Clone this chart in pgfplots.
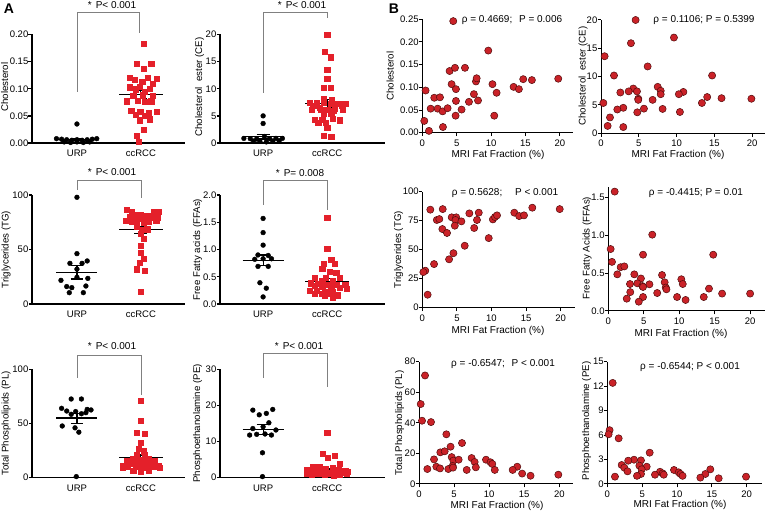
\documentclass[border=0pt]{standalone}
\usepackage{fontspec}
\setmainfont{Liberation Sans}
\usepackage{pgfplots}
\pgfplotsset{compat=1.18}
\definecolor{ared}{RGB}{228,32,42}
\definecolor{bred}{RGB}{202,34,40}
\definecolor{bdark}{RGB}{80,12,12}

\pgfplotsset{
  base/.style={scale only axis, anchor=south west, clip=false, enlargelimits=false,
    axis lines=left, axis line style={-,black},
    tick align=outside, major tick length=3.5pt, tick style={black},
    tick label style={font=\fontsize{9.5}{11}\selectfont},
    yticklabel style={inner xsep=0.5pt, xshift=0.5pt},
    /pgf/number format/assume math mode=true},
  apanel/.style={base, axis line style={line width=1.4pt}, ytick style={line width=1.4pt},
    xtick={1,2}, xticklabels={URP,ccRCC}, xtick style={draw=none}, ymin=0},
  aleft/.style={apanel, xmin=0.297, xmax=2.69, width=153pt},
  aright/.style={apanel, xmin=0.328, xmax=2.9, width=165pt},
  bpanel/.style={base, axis line style={line width=1pt}, tick style={line width=1pt},
    xmin=0, ymin=0, xtick={0,5,10,15,20}},
  two/.style={yticklabel style={/pgf/number format/.cd,fixed,fixed zerofill,precision=2}},
  one/.style={yticklabel style={/pgf/number format/.cd,fixed,fixed zerofill,precision=1}},
  urp/.style={only marks, mark=*, mark size=2.4pt, mark options={fill=black, draw=black}},
  cc/.style={only marks, mark=square*, mark size=2.6pt, mark options={fill=ared, draw=ared}},
  bdot/.style={only marks, mark=*, mark size=3.6pt, mark options={fill=bred, draw=bdark, line width=0.5pt}},
  msl/.style={black, line width=1.2pt},
}
% mean and SEM: x-left, x-right, cap-left, cap-right, x-centre, mean, low, high
\newcommand\msem[8]{%
  \addplot[msl] coordinates {(#1,#6) (#2,#6)};
  \addplot[msl] coordinates {(#5,#7) (#5,#8)};
  \addplot[msl] coordinates {(#3,#7) (#4,#7)};
  \addplot[msl] coordinates {(#3,#8) (#4,#8)};
}

\begin{document}
\begin{tikzpicture}[x=1pt,y=1pt,font=\fontsize{10}{12}\selectfont,
  ylab/.style={rotate=90, anchor=north, inner sep=0.5pt, font=\fontsize{9.7}{11}\selectfont}]
\useasboundingbox (0,0) rectangle (766,514);

% ---------------- A: Cholesterol
\begin{axis}[aleft, two, at={(32pt,371pt)}, height=108.5pt, ymax=0.20,
  ytick={0,0.05,0.10,0.15,0.20}]
  \addplot[urp] coordinates {(1.0,0.035) (0.68,0.008) (0.76,0.007) (0.84,0.006) (0.92,0.005)
    (1.0,0.006) (1.08,0.005) (1.16,0.006) (1.24,0.007) (1.31,0.008) (0.80,0.002) (0.90,0.001)
    (1.0,0.002) (1.10,0.001) (1.20,0.002)};
  \addplot[cc] coordinates {(2.04,0.183) (1.94,0.146) (2.16,0.146) (2.04,0.137) (1.83,0.121)
    (2.11,0.120) (2.25,0.118) (1.90,0.116) (2.02,0.113) (2.18,0.109) (1.83,0.103) (1.98,0.104)
    (1.92,0.099) (2.14,0.100) (2.06,0.094) (1.88,0.087) (2.03,0.088) (2.18,0.087) (1.78,0.077)
    (1.95,0.078) (2.06,0.076) (2.16,0.077) (1.85,0.059) (1.99,0.058) (2.25,0.058) (2.12,0.055)
    (1.92,0.052) (2.06,0.051) (1.98,0.042) (2.14,0.044) (2.04,0.025) (1.94,0.013) (1.97,0.003)};
  \msem{0.68}{1.32}{0.9}{1.1}{1}{0.006}{0.004}{0.008}
  \msem{1.66}{2.34}{1.9}{2.1}{2}{0.090}{0.082}{0.097}
\end{axis}

% ---------------- A: Cholesterol ester
\begin{axis}[aright, at={(220pt,371pt)}, height=108.5pt, ymax=20, ytick={0,5,10,15,20}]
  \addplot[urp] coordinates {(1.0,5.0) (1.0,3.6) (1.02,1.2) (0.70,0.85) (0.80,0.8) (0.90,0.75)
    (1.10,0.8) (1.20,0.85) (1.30,0.85) (0.85,0.35) (0.95,0.3) (1.05,0.2) (1.15,0.35) (1.25,0.4)};
  \addplot[cc] coordinates {(2.0,20) (1.96,16.9) (2.05,15.8) (2.0,13.5) (2.0,11.8) (1.95,10.2)
    (2.05,10.2) (1.95,8.2) (2.07,8.0) (1.72,7.5) (1.83,7.4) (1.94,7.4) (2.17,7.3) (2.28,7.3)
    (2.06,7.2) (1.78,6.9) (2.22,6.9) (1.88,6.5) (2.12,6.4) (2.0,6.2) (1.76,6.2) (2.24,6.1)
    (1.9,6.1) (2.1,5.9) (1.94,5.35) (2.06,5.35) (2.08,4.5) (1.8,4.35) (1.92,4.3) (2.2,4.2)
    (1.86,3.76) (1.98,3.7) (2.0,2.8) (1.94,1.3) (2.06,1.1)};
  \msem{0.68}{1.32}{0.9}{1.1}{1}{1.15}{0.75}{1.5}
  \msem{1.66}{2.34}{1.9}{2.1}{2}{7.3}{6.6}{8.0}
\end{axis}

% ---------------- A: Triglycerides
\begin{axis}[aleft, at={(32pt,210pt)}, height=109pt, ymax=100, ytick={0,50,100}]
  \addplot[urp] coordinates {(1.0,97.9) (1.0,46.2) (0.89,37.3) (1.08,37.3) (1.16,39.5) (1.0,32)
    (0.75,21.7) (1.17,23.5) (1.0,24.5) (0.84,16) (1.14,16.5) (0.92,15) (0.88,10.4) (1.10,10.4)};
  \addplot[cc] coordinates {(1.78,86.2) (1.86,85) (2.2,85) (2.28,84.5) (1.92,81.9) (2.0,81.9)
    (2.1,81.3) (1.82,79.6) (2.16,79.6) (2.26,79) (1.9,78.2) (2.0,77.9) (2.08,77.9) (1.76,76.4)
    (2.24,76.1) (1.86,75.6) (1.94,75.6) (2.12,75.6) (2.04,74.4) (1.94,70.7) (2.1,68.7)
    (2.02,67.8) (2.0,64.4) (2.04,60) (2.0,53.4) (2.0,47) (2.04,41.7) (1.98,37.6) (1.94,31.9)
    (2.06,30.7) (2.0,11.2)};
  \msem{0.68}{1.32}{0.9}{1.1}{1}{29}{23}{35}
  \msem{1.66}{2.34}{1.9}{2.1}{2}{68}{65}{71}
\end{axis}

% ---------------- A: Free fatty acids
\begin{axis}[aright, one, at={(220pt,210pt)}, height=109pt, ymax=2, ytick={0,0.5,1,1.5,2}]
  \addplot[urp] coordinates {(1.0,1.57) (1.0,1.31) (1.0,1.08) (0.92,0.90) (1.08,0.89) (0.87,0.82)
    (1.0,0.83) (1.13,0.83) (0.92,0.69) (1.08,0.69) (0.95,0.39) (1.05,0.29) (1.0,0.13)};
  \addplot[cc] coordinates {(2.0,1.58) (2.0,1.01) (2.06,0.82) (1.94,0.745) (2.12,0.745)
    (1.92,0.65) (2.04,0.59) (2.14,0.58) (1.80,0.485) (2.20,0.485) (1.98,0.476) (1.92,0.43)
    (2.08,0.42) (1.74,0.38) (1.86,0.366) (2.0,0.357) (2.14,0.357) (2.28,0.353) (1.80,0.33)
    (1.92,0.318) (2.06,0.31) (2.20,0.296) (2.30,0.287) (1.72,0.25) (1.84,0.238) (1.96,0.23)
    (2.08,0.23) (1.80,0.185) (1.92,0.185) (2.04,0.185) (2.16,0.163) (1.96,0.146) (2.08,0.123)};
  \msem{0.68}{1.32}{0.9}{1.1}{1}{0.80}{0.70}{0.90}
  \msem{1.66}{2.34}{1.9}{2.1}{2}{0.41}{0.36}{0.47}
\end{axis}

% ---------------- A: Total phospholipids
\begin{axis}[aleft, at={(32pt,36.3pt)}, height=108.4pt, ymax=100, ytick={0,50,100}]
  \addplot[urp] coordinates {(0.91,72.6) (1.07,72.6) (0.76,64) (1.16,63) (1.22,62.5) (0.84,61.5)
    (0.98,61) (0.91,58.5) (1.07,59) (1.14,60) (0.77,47.7) (0.97,46) (1.03,42) (0.99,1)};
  \addplot[cc] coordinates {(2.0,71) (2.0,52.3) (1.94,41.4) (2.06,40.5) (2.0,32.5) (1.96,26.8)
    (2.04,24.4) (1.94,21.4) (2.06,20.7) (1.88,17.6) (2.12,17) (2.0,16.1) (1.78,15.9) (2.22,15.9)
    (1.9,15.3) (2.1,14.4) (2.0,14.2) (1.84,13.1) (2.16,11.8) (1.72,11.3) (2.28,11.3) (1.96,10.9)
    (2.06,10.7) (1.8,10.2) (1.92,9.8) (2.2,9.8) (2.04,9.2) (1.72,9.2) (2.3,9.2) (1.88,6.8)
    (2.12,6.1) (2.0,5.4)};
  \msem{0.68}{1.32}{0.9}{1.1}{1}{55}{50}{59}
  \msem{1.66}{2.34}{1.9}{2.1}{2}{18.5}{16}{21}
\end{axis}

% ---------------- A: Phosphoethanolamine
\begin{axis}[aright, at={(220pt,36.3pt)}, height=108.4pt, ymax=30, ytick={0,10,20,30}]
  \addplot[urp] coordinates {(0.84,18.7) (1.15,18.9) (0.94,17.4) (1.05,17.8) (1.09,15.2)
    (0.84,13.6) (1.0,14.1) (1.2,13.2) (0.79,11.8) (0.9,12) (1.03,12.1) (1.13,11.8) (0.99,6.9)
    (0.99,0.3)};
  \addplot[cc] coordinates {(2.0,12.4) (1.93,6.6) (2.11,6.1) (2.01,5.6) (2.2,3.84) (1.78,2.98)
    (1.88,2.9) (2.08,2.86) (1.98,2.33) (2.18,2.25) (1.68,2.12) (2.28,2.0) (1.86,1.8) (2.14,1.8)
    (2.32,1.72) (1.74,1.55) (1.98,1.5) (2.24,1.43) (1.8,1.3) (2.0,1.23) (2.12,1.23) (1.92,1.23)
    (1.68,1.14) (2.3,1.14) (1.86,1.0) (2.06,1.0) (1.96,0.9) (2.2,0.9) (1.76,0.78) (2.1,0.7)};
  \msem{0.68}{1.32}{0.9}{1.1}{1}{13.3}{12}{14.7}
  \msem{1.66}{2.34}{1.9}{2.1}{2}{2.2}{1.8}{2.6}
\end{axis}

% ---------------- B: Cholesterol
\begin{axis}[bpanel, two, at={(422.3pt,381.3pt)}, width=151pt, height=113.4pt, xmax=21.95,
  ymax=0.25, ytick={0,0.05,0.10,0.15,0.20,0.25}]
  \addplot[bdot] coordinates {(0.29,0.026) (0.48,0.093) (0.97,0.004) (1.21,0.053) (1.74,0.077)
    (2.23,0.053) (2.57,0.078) (2.95,0.047) (3.0,0.0125) (3.68,0.054) (3.97,0.136) (4.26,0.107)
    (4.5,0.246) (4.75,0.143) (4.84,0.0375) (4.89,0.096) (4.89,0.07) (5.71,0.051) (6.2,0.143)
    (6.78,0.068) (7.5,0.085) (7.8,0.113) (7.9,0.12) (8.1,0.071) (9.59,0.181) (10.2,0.107)
    (10.46,0.0375) (10.8,0.088) (13.27,0.101) (14.04,0.096) (14.67,0.118) (15.93,0.116)
    (19.76,0.119)};
\end{axis}

% ---------------- B: Cholesterol ester
\begin{axis}[bpanel, at={(601pt,380.7pt)}, width=164pt, height=113.3pt, xmax=21.7,
  ymax=20, ytick={0,5,10,15,20}]
  \addplot[bdot] coordinates {(4.58,20) (9.65,16.9) (3.96,15.9) (0.48,13.6) (6.17,11.8)
    (1.72,10.2) (14.7,10.2) (7.5,8.2) (4.27,7.9) (2.56,7.2) (3.66,7.4) (4.76,7.4) (7.9,7.5)
    (10.9,7.3) (7.9,6.9) (10.3,6.9) (14.05,6.4) (4.93,6.1) (15.95,6.2) (19.9,6.1) (6.83,5.9)
    (4.93,5.9) (0.31,5.35) (13.35,5.35) (2.95,4.5) (2.16,4.2) (5.68,4.35) (8.15,4.3) (4.8,3.7)
    (10.44,3.76) (1.19,2.8) (0.88,1.3) (2.95,1.1)};
\end{axis}

% ---------------- B: Triglycerides
\begin{axis}[bpanel, at={(422.3pt,206.3pt)}, width=152.7pt, height=116pt, xmax=22.07,
  ymax=100, ytick={0,25,50,75,100}]
  \addplot[bdot] coordinates {(1.16,84.5) (2.95,85) (2.1,75.6) (2.46,76.4) (2.9,67.8) (3.57,64.4)
    (4.25,77.9) (4.9,77.9) (4.8,75.6) (4.7,70.7) (5.65,74.4) (6.8,81.3) (8.16,81.9) (7.5,68.7)
    (7.9,75.6) (9.6,60) (6.13,53.4) (4.5,47) (3.87,41.7) (1.7,37.6) (0.43,31.9) (0.15,30.7)
    (0.77,11.2) (10.2,76.1) (10.5,78.2) (10.8,79.6) (13.3,81.9) (14.0,79) (14.7,79.6)
    (15.9,86.2) (19.86,85)};
\end{axis}

% ---------------- B: Free fatty acids
\begin{axis}[bpanel, one, at={(608.3pt,203pt)}, width=156.7pt, height=124.3pt, xmax=22.1,
  ymax=1.645, ytick={0,0.5,1,1.5}]
  \addplot[bdot] coordinates {(0.9,1.58) (6.2,1.01) (0.33,0.82) (4.9,0.745) (14.8,0.745)
    (0.52,0.65) (1.74,0.58) (2.26,0.59) (1.27,0.485) (3.67,0.485) (7.58,0.476) (4.6,0.43)
    (10.3,0.42) (7.95,0.38) (4.1,0.366) (5.8,0.353) (3.06,0.357) (10.5,0.357) (4.8,0.33)
    (4.9,0.318) (8.1,0.31) (8.2,0.287) (14.2,0.296) (3.1,0.25) (6.9,0.238) (16.05,0.23)
    (20,0.23) (4.9,0.185) (9.7,0.185) (13.46,0.185) (2.6,0.163) (10.9,0.146) (4.3,0.123)};
\end{axis}

% ---------------- B: Total phospholipids
\begin{axis}[bpanel, at={(419pt,30pt)}, width=154pt, height=122.3pt, xmax=21.95,
  ymax=80, ytick={0,20,40,60,80}]
  \addplot[bdot] coordinates {(0.86,71) (0.24,52.3) (0.43,41.4) (1.71,40.5) (3.9,32.5)
    (6.13,26.8) (4.5,24.4) (3.04,20.7) (3.66,21.4) (2.14,16.1) (4.66,17.6) (4.9,15.3)
    (5.65,15.9) (7.5,17) (7.93,14.4) (9.55,15.9) (10.2,14.2) (10.45,13.1) (14.0,11.3)
    (2.47,11.3) (4.8,11.8) (8.1,10.9) (1.19,9.8) (3.0,10.2) (4.18,9.8) (4.85,10.7) (6.8,9.2)
    (10.8,9.2) (13.35,9.2) (14.7,6.8) (15.9,5.4) (19.86,6.1)};
\end{axis}

% ---------------- B: Phosphoethanolamine
\begin{axis}[bpanel, at={(607.3pt,30pt)}, width=154.4pt, height=122.3pt, xmax=22.15,
  ymax=15, ytick={0,3,6,9,12,15}]
  \addplot[bdot] coordinates {(0.77,12.4) (0.33,6.6) (0.19,6.1) (1.63,5.6) (6.08,3.84)
    (3.83,2.98) (4.83,2.9) (3.0,2.86) (2.06,2.33) (2.44,2.0) (4.6,2.25) (5.65,2.12) (4.93,1.8)
    (2.9,1.55) (7.56,1.5) (9.57,1.72) (14.78,1.8) (7.94,1.3) (10.24,1.43) (10.5,1.23)
    (4.83,1.23) (6.84,1.14) (8.1,1.14) (10.8,1.0) (14.07,1.23) (1.1,0.9) (4.26,1.0) (13.35,0.78)
    (15.98,0.7) (19.9,0.9)};
\end{axis}

% ---------------- panel letters
\node[font=\fontsize{14}{16}\selectfont\bfseries] at (9,505) {A};
\node[font=\fontsize{14}{16}\selectfont\bfseries] at (394,505) {B};

% ---------------- significance brackets
\begin{scope}[draw=black!50, line width=0.8pt]
\draw (77,422) -- (77,502) -- (139,502) -- (139,481);
\draw (263,421) -- (263,502) -- (327,502) -- (327,496);
\draw (77,324) -- (77,334) -- (141,334) -- (141,316);
\draw (263,309) -- (263,334) -- (327,334) -- (327,304);
\draw (77,136) -- (77,159) -- (141,159) -- (141,119);
\draw (263,136) -- (263,161) -- (327,161) -- (327,127);
\end{scope}
\node at (112,508.5) {*\hspace{4pt}P< 0.001};
\node at (302,508.5) {*\hspace{4pt}P< 0.001};
\node at (112,342) {*\hspace{4pt}P< 0.001};
\node at (300,341) {*\hspace{4pt}P= 0.008};
\node at (112,168) {*\hspace{4pt}P< 0.001};
\node at (299,168) {*\hspace{4pt}P< 0.001};

% ---------------- y labels (left edge of the rotated text)
\node[ylab] at (0.5,427) {Cholesterol};
\node[ylab] at (194.5,427) {Cholesterol\hspace{3pt} ester (CE)};
\node[ylab] at (1,264.5) {Triglycerides (TG)};
\node[ylab] at (192.5,264.5) {Free Fatty acids (FFAs)};
\node[ylab] at (1,90.5) {Total Phospholipids (PL)};
\node[ylab] at (192.5,90.5) {Phosphoethanolamine (PE)};
\node[ylab] at (386,438) {Cholesterol};
\node[ylab] at (578,438) {Cholesterol\hspace{3pt} ester (CE)};
\node[ylab] at (393.5,264.3) {Triglycerides (TG)};
\node[ylab] at (582,266) {Free Fatty Acids (FFAs)};
\node[ylab] at (394.5,91) {Total Phospholipids (PL)};
\node[ylab] at (581.5,93) {Phosphoethanolamine (PE)};

% ---------------- x labels
\node at (498,359) {MRI Fat Fraction (\%)};
\node at (678,359) {MRI Fat Fraction (\%)};
\node at (498,183) {MRI Fat Fraction (\%)};
\node at (681,180) {MRI Fat Fraction (\%)};
\node at (497,8.5) {MRI Fat Fraction (\%)};
\node at (680,9.5) {MRI Fat Fraction (\%)};

% ---------------- correlation notes
\node at (512,494) {ρ = 0.4669;\hspace{4pt} P = 0.006};
\node at (704,494) {ρ = 0.1106; P = 0.5399};
\node at (505,321) {ρ = 0.5628;\hspace{10pt} P < 0.001};
\node at (696,321) {ρ = -0.4415; P = 0.01};
\node at (503,150) {ρ = -0.6547;\hspace{4pt} P < 0.001};
\node at (690,147) {ρ = -0.6544; P < 0.001};
\end{tikzpicture}
\end{document}
